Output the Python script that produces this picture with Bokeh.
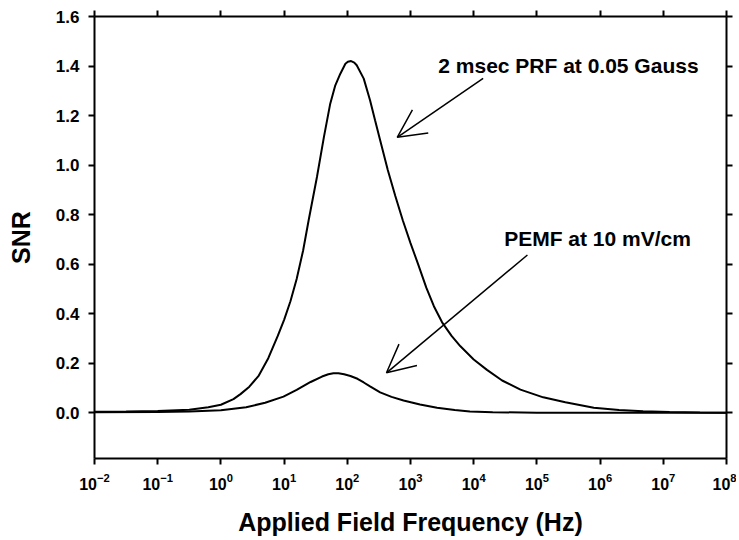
from bokeh.plotting import figure
from bokeh.models import (Range1d, FixedTicker, LogAxis, LinearAxis, Arrow, OpenHead,
                          Label, PrintfTickFormatter)
from bokeh.embed import file_html
from bokeh.resources import INLINE

# ---- data ----
prf_freq = [0.01, 0.0316, 0.1, 0.316, 0.631, 1.0, 1.58, 2.04, 2.82, 3.98, 5.62, 7.94,
            10.0, 12.6, 15.8, 20.0, 24.5, 33.1, 42.7, 53.7, 64.6, 77.6, 93.3, 102.0,
            115.0, 129.0, 141.0, 182.0, 229.0, 275.0, 331.0, 437.0, 575.0, 759.0,
            1000.0, 1318.0, 1778.0, 2344.0, 3162.0, 4467.0, 6166.0, 10000.0, 16218.0,
            28184.0, 54954.0, 125893.0, 281838.0, 794328.0, 1995262.0, 4786301.0,
            12589254.0, 38018940.0, 1e8]
prf_snr = [0.004, 0.005, 0.007, 0.012, 0.022, 0.032, 0.055, 0.075, 0.105, 0.15, 0.22,
           0.31, 0.375, 0.45, 0.54, 0.655, 0.778, 0.952, 1.114, 1.248, 1.322, 1.369,
           1.409, 1.417, 1.42, 1.414, 1.403, 1.349, 1.262, 1.181, 1.10, 0.98, 0.875,
           0.775, 0.685, 0.60, 0.505, 0.43, 0.365, 0.31, 0.268, 0.215, 0.173, 0.13,
           0.093, 0.062, 0.042, 0.02, 0.011, 0.006, 0.003, 0.001, 0.0]

pemf_freq = [0.01, 0.1, 0.316, 1.0, 2.51, 5.01, 9.77, 15.8, 26.3, 39.8, 50.1, 60.3,
             72.4, 89.1, 112.0, 145.0, 182.0, 229.0, 331.0, 501.0, 776.0, 1413.0,
             2630.0, 5012.0, 8710.0, 19953.0, 1e5, 1e8]
pemf_snr = [0.002, 0.003, 0.005, 0.01, 0.022, 0.04, 0.065, 0.092, 0.124, 0.146, 0.155,
            0.159, 0.159, 0.155, 0.148, 0.137, 0.122, 0.106, 0.082, 0.064, 0.049, 0.033,
            0.02, 0.011, 0.005, 0.002, 0.0, 0.0]

x_ticks = [1e-2, 1e-1, 1.0, 1e1, 1e2, 1e3, 1e4, 1e5, 1e6, 1e7, 1e8]
y_ticks = [0.0, 0.2, 0.4, 0.6, 0.8, 1.0, 1.2, 1.4, 1.6]

label_prf = "2 msec PRF at 0.05 Gauss"
label_pemf = "PEMF at 10 mV/cm"

FONT = "Liberation Sans"

p = figure(width=736, height=538, x_axis_type="log",
           x_range=Range1d(1e-2, 1e8), y_range=Range1d(-0.185, 1.6),
           output_backend="svg", toolbar_location=None,
           min_border_left=94, min_border_right=10, min_border_top=16, min_border_bottom=79)
p.xgrid.visible = False
p.ygrid.visible = False
p.outline_line_color = None
p.background_fill_color = "white"
p.border_fill_color = "white"


def style_axis(ax, font_size):
    ax.axis_line_width = 2
    ax.axis_line_color = "black"
    ax.major_tick_line_width = 2
    ax.major_tick_line_color = "black"
    ax.major_tick_out = 6
    ax.major_tick_in = 0
    ax.minor_tick_line_color = None
    ax.major_label_text_font = FONT
    ax.major_label_text_font_style = "bold"
    ax.major_label_text_font_size = font_size
    ax.major_label_text_color = "black"
    ax.axis_label_text_font = FONT
    ax.axis_label_text_font_style = "bold"
    ax.axis_label_text_font_size = "25px"
    ax.axis_label_text_color = "black"


xa = p.xaxis[0]
xa.ticker = FixedTicker(ticks=x_ticks)
style_axis(xa, "16px")
xa.major_label_standoff = 8
xa.axis_label = "Applied Field Frequency (Hz)"
xa.axis_label_standoff = 15

ya = p.yaxis[0]
ya.ticker = FixedTicker(ticks=y_ticks)
ya.formatter = PrintfTickFormatter(format="%.1f")
style_axis(ya, "17px")
ya.major_label_standoff = 9
ya.axis_label = "SNR"
ya.axis_label_standoff = 18

top = LogAxis(ticker=FixedTicker(ticks=x_ticks))
style_axis(top, "1px")
top.major_label_text_alpha = 0
top.major_label_standoff = 0
p.add_layout(top, "above")

right = LinearAxis(ticker=FixedTicker(ticks=y_ticks))
style_axis(right, "1px")
right.major_label_text_alpha = 0
right.major_label_standoff = 0
p.add_layout(right, "right")

p.line(prf_freq, prf_snr, line_color="black", line_width=2)
p.line(pemf_freq, pemf_snr, line_color="black", line_width=2)

# annotations
p.add_layout(Arrow(end=OpenHead(size=28, line_width=1.5, line_color="black"),
                   x_start=14100, y_start=1.35, x_end=617, y_end=1.112,
                   line_width=1.5, line_color="black"))
p.add_layout(Arrow(end=OpenHead(size=28, line_width=1.5, line_color="black"),
                   x_start=70800, y_start=0.637, x_end=417, y_end=0.161,
                   line_width=1.5, line_color="black"))

p.add_layout(Label(x=2750, y=1.4026, text=label_prf, text_font=FONT,
                   text_font_style="bold", text_font_size="21px", text_color="black",
                   text_baseline="alphabetic"))
p.add_layout(Label(x=30300, y=0.7054, text=label_pemf, text_font=FONT,
                   text_font_style="bold", text_font_size="21px", text_color="black",
                   text_baseline="alphabetic"))

open("out.html", "w").write(file_html(p, INLINE))
